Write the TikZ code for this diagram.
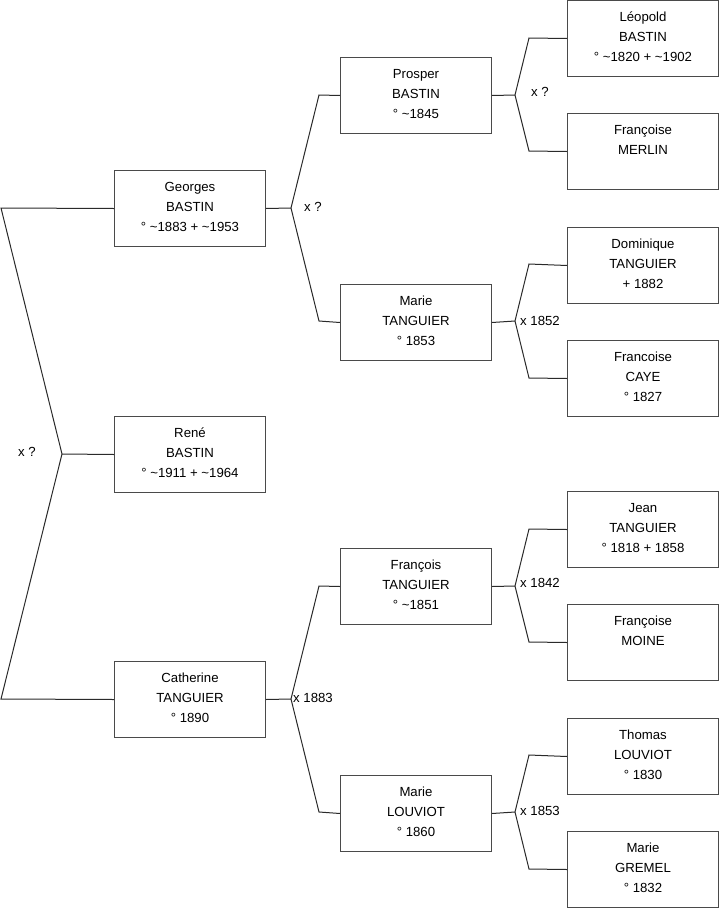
\documentclass[tikz,border=0pt]{standalone}
\usepackage{fontspec}
\setmainfont{Liberation Sans}
\newcommand{\fs}{\fontsize{13.2}{20}\selectfont}
\newcommand{\tl}{\textasciitilde}
\definecolor{boxc}{HTML}{4A4A4A}
\definecolor{linec}{HTML}{2A2A2A}
\tikzset{
  pbox/.style={draw=boxc, line width=1pt, minimum width=151pt, minimum height=76pt, inner sep=0pt, anchor=north west},
  ptext/.style={anchor=north, align=center, inner sep=0pt, font=\fs, execute at begin node=\strut},
  conn/.style={draw=linec, line width=1pt, line join=miter},
  mlabel/.style={anchor=west, inner sep=0pt, font=\fs}
}
\newcommand{\person}[4]{% name, x, y, text
  \node[pbox] (#1) at (#2,#3) {};
  \node[ptext] (#1t) at ([yshift=-12pt]#1.north) {#4};
}
\begin{document}
\begin{tikzpicture}[x=1pt,y=-1pt]
\useasboundingbox (0,0) rectangle (719,908);
% column 1
\person{georges}{114}{170}{Georges\\BASTIN\\° \tl1883 + \tl1953}
\person{rene}{114}{416}{René\\BASTIN\\° \tl1911 + \tl1964}
\person{catherine}{114}{661}{Catherine\\TANGUIER\\° 1890}
% column 2
\person{prosper}{340}{57}{Prosper\\BASTIN\\° \tl1845}
\person{marieT}{340}{284}{Marie\\TANGUIER\\° 1853}
\person{francois}{340}{548}{François\\TANGUIER\\° \tl1851}
\person{marieL}{340}{775}{Marie\\LOUVIOT\\° 1860}
% column 3
\person{leopold}{567}{0}{Léopold\\BASTIN\\° \tl1820 + \tl1902}
\person{merlin}{567}{113}{Françoise\\MERLIN}
\person{dominique}{567}{227}{Dominique\\TANGUIER\\+ 1882}
\person{caye}{567}{340}{Francoise\\CAYE\\° 1827}
\person{jean}{567}{491}{Jean\\TANGUIER\\° 1818 + 1858}
\person{moine}{567}{604}{Françoise\\MOINE}
\person{thomas}{567}{718}{Thomas\\LOUVIOT\\° 1830}
\person{gremel}{567}{831}{Marie\\GREMEL\\° 1832}
% left fork
\coordinate (la) at (1,208);
\coordinate (lm) at (62,454);
\coordinate (lb) at (1,699);
\draw[conn] (georges.west) -- (la) -- (lm) -- (lb) -- (catherine.west);
\draw[conn] (lm) -- (rene.west);
\node[mlabel] (l0) at (18,452) {x ?};
% Georges fork
\coordinate (g0) at (291,208);
\draw[conn] (georges.east) -- (g0);
\draw[conn] (prosper.west) -- (319,95) -- (g0) -- (319,321) -- (marieT.west);
\node[mlabel] (l1) at (304,207) {x ?};
% Catherine fork
\coordinate (c0) at (291,699);
\draw[conn] (catherine.east) -- (c0);
\draw[conn] (francois.west) -- (319,586) -- (c0) -- (319,812) -- (marieL.west);
\node[mlabel] (l2) at (293,698) {x 1883};
% Prosper fork
\coordinate (p0) at (515,95);
\draw[conn] (prosper.east) -- (p0);
\draw[conn] (leopold.west) -- (529,38) -- (p0) -- (529,151) -- (merlin.west);
\node[mlabel] (l3) at (531,92) {x ?};
% Marie T fork
\coordinate (m0) at (515,321);
\draw[conn] (marieT.east) -- (m0);
\draw[conn] (dominique.west) -- (529,264) -- (m0) -- (529,378) -- (caye.west);
\node[mlabel] (l4) at (520,321) {x 1852};
% Francois fork
\coordinate (f0) at (515,586);
\draw[conn] (francois.east) -- (f0);
\draw[conn] (jean.west) -- (529,529) -- (f0) -- (529,642) -- (moine.west);
\node[mlabel] (l5) at (520,583) {x 1842};
% Marie L fork
\coordinate (ml0) at (515,812);
\draw[conn] (marieL.east) -- (ml0);
\draw[conn] (thomas.west) -- (529,755) -- (ml0) -- (529,869) -- (gremel.west);
\node[mlabel] (l6) at (520,811) {x 1853};
\end{tikzpicture}
\end{document}
